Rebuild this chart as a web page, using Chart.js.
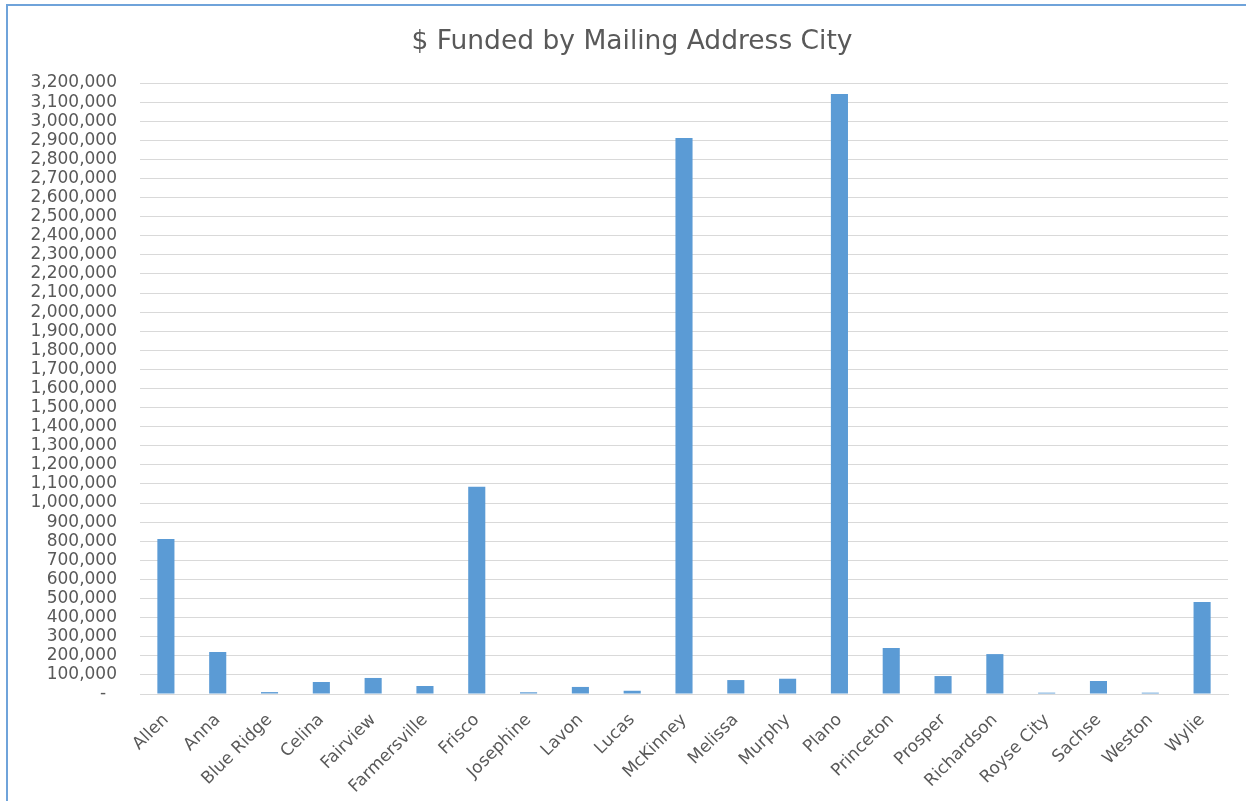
<!DOCTYPE html>
<html>
<head>
<meta charset="utf-8">
<script src="https://cdn.jsdelivr.net/npm/chart.js@4.4.1/dist/chart.umd.min.js"></script>
<style>
  html, body { margin: 0; padding: 0; background: #ffffff; overflow: hidden; }
  #wrap { position: relative; width: 1246px; height: 801px; }
  #frame { position: absolute; left: 6px; top: 4px; right: -10px; bottom: -10px;
           border-left: 2px solid #6fa3da; border-top: 2px solid #6fa3da; pointer-events: none; }
  canvas { position: absolute; left: 0; top: 0; }
</style>
</head>
<body>
<div id="wrap">
  <canvas id="c" width="1246" height="801"></canvas>
  <div id="frame"></div>
</div>
<script>
const chartTitle = "$ Funded by Mailing Address City";
const cities = ["Allen", "Anna", "Blue Ridge", "Celina", "Fairview", "Farmersville", "Frisco",
  "Josephine", "Lavon", "Lucas", "McKinney", "Melissa", "Murphy", "Plano", "Princeton",
  "Prosper", "Richardson", "Royse City", "Sachse", "Weston", "Wylie"];
const funded = [812000, 220000, 10000, 63000, 84000, 42000, 1085000,
  9000, 37000, 17000, 2912000, 73000, 80000, 3142000, 241000,
  94000, 209000, 7000, 68000, 7000, 482000];
const yMin = 0;
const yMax = 3200000;
const yStep = 100000;

const titlePlugin = {
  id: 'customTitle',
  afterDraw(chart) {
    const ctx = chart.ctx;
    ctx.save();
    ctx.font = '26.5px "DejaVu Sans"';
    ctx.fillStyle = '#595959';
    ctx.textAlign = 'center';
    ctx.textBaseline = 'alphabetic';
    ctx.fillText(chartTitle, 632, 49);
    ctx.restore();
  }
};

new Chart(document.getElementById('c'), {
  type: 'bar',
  data: {
    labels: cities,
    datasets: [{
      data: funded,
      backgroundColor: '#5b9bd5',
      borderWidth: 0,
      barPercentage: 0.33,
      categoryPercentage: 1.0
    }]
  },
  options: {
    responsive: false,
    animation: false,
    devicePixelRatio: 1,
    layout: { padding: { top: 83, right: 18, left: 0, bottom: 0 } },
    plugins: { legend: { display: false }, tooltip: { enabled: false }, title: { display: false } },
    scales: {
      x: {
        afterFit(scale) { scale.height = 107; },
        grid: { display: false, drawTicks: false },
        border: { display: true, color: '#d9d9d9', width: 1 },
        ticks: {
          autoSkip: false, maxRotation: 45, minRotation: 45, padding: 16,
          color: '#595959', font: { family: '"DejaVu Sans"', size: 17 }
        }
      },
      y: {
        min: yMin, max: yMax,
        afterFit(scale) { scale.width = 140; },
        grid: { color: '#d9d9d9', lineWidth: 1, drawTicks: false },
        border: { display: false },
        ticks: {
          stepSize: yStep, autoSkip: false, padding: 23,
          color: '#595959', font: { family: '"DejaVu Sans"', size: 17 },
          callback: (v) => v === 0 ? '-  ' : v.toLocaleString('en-US')
        }
      }
    }
  },
  plugins: [titlePlugin]
});
</script>
</body>
</html>
